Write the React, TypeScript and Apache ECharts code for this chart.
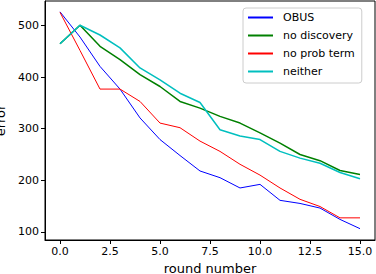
import React, { useEffect, useRef } from "react";
import * as echarts from "echarts";

const rounds = [0, 1, 2, 3, 4, 5, 6, 7, 8, 9, 10, 11, 12, 13, 14, 15];
const obus = [527, 478, 421, 377, 321, 279, 248, 218, 205, 185, 192, 161, 155, 146, 124, 106];
const noDiscovery = [465, 501, 460, 434, 405, 382, 353, 340, 324, 311, 292, 272, 250, 238, 219, 211];
const noProbTerm = [526, 452, 377, 377, 353, 311, 302, 276, 256, 231, 210, 185, 163, 149, 127, 127];
const neither = [465, 501, 482, 457, 418, 395, 369, 351, 298, 286, 279, 256, 243, 233, 215, 203];
const xTicks = [0, 2.5, 5, 7.5, 10, 12.5, 15];
const yTicks = [100, 200, 300, 400, 500];

const FONT = "DejaVu Sans";

export default function App() {
  const ref = useRef<HTMLDivElement>(null);
  useEffect(() => {
    if (!ref.current) return;
    const chart = echarts.init(ref.current, undefined, { renderer: "svg" });
    const mk = (name: string, vals: number[], color: string, width: number) => ({
      name,
      type: "line",
      data: rounds.map((r, i) => [r, vals[i]]),
      symbol: "none",
      lineStyle: { color, width },
      itemStyle: { color },
      z: 2,
    });
    chart.setOption({
      animation: false,
      textStyle: { fontFamily: FONT },
      grid: {
        left: 45,
        right: 1,
        top: 1,
        bottom: 34,
        containLabel: false,
        outerBoundsMode: "none",
        show: true,
        borderColor: "#000",
        borderWidth: 1,
      },
      xAxis: {
        type: "value",
        min: -0.75,
        max: 15.75,
        name: "round number",
        nameLocation: "middle",
        nameGap: 18,
        nameTextStyle: { fontSize: 13, color: "#000", fontFamily: FONT },
        axisLine: { show: true, onZero: false, lineStyle: { color: "#000", width: 1 } },
        axisTick: { show: true, length: 4, customValues: xTicks, lineStyle: { color: "#000" } },
        axisLabel: {
          customValues: xTicks,
          fontSize: 11,
          color: "#000",
          margin: 6,
          fontFamily: FONT,
          formatter: (v: number) => v.toFixed(1),
        },
        splitLine: { show: false },
      },
      yAxis: {
        type: "value",
        min: 84,
        max: 548,
        name: "error",
        nameLocation: "middle",
        nameGap: 38,
        nameTextStyle: { fontSize: 13, color: "#000", fontFamily: FONT },
        axisLine: { show: true, onZero: false, lineStyle: { color: "#000", width: 1 } },
        axisTick: { show: true, length: 4, customValues: yTicks, lineStyle: { color: "#000" } },
        axisLabel: { customValues: yTicks, fontSize: 11, color: "#000", margin: 6, fontFamily: FONT },
        splitLine: { show: false },
      },
      legend: {
        orient: "vertical",
        left: 243,
        top: 8,
        padding: [3, 7, 5, 4],
        itemGap: 5,
        itemWidth: 25,
        itemHeight: 2,
        itemStyle: { opacity: 0, borderWidth: 0 },
        backgroundColor: "rgba(255,255,255,0.8)",
        borderColor: "#ccc",
        borderWidth: 1,
        borderRadius: 3,
        textStyle: { fontSize: 11, color: "#000", fontFamily: FONT, lineHeight: 13, padding: [0, 0, 0, 5] },
        data: ["OBUS", "no discovery", "no prob term", "neither"],
      },
      series: [
        mk("OBUS", obus, "#0000ff", 1),
        mk("no discovery", noDiscovery, "#008000", 1.5),
        mk("no prob term", noProbTerm, "#ff0000", 1),
        mk("neither", neither, "#00bfbf", 1.5),
      ],
    });
    return () => chart.dispose();
  }, []);
  return (
    <div
      ref={ref}
      style={{ position: "absolute", left: 0, top: 0, width: 376, height: 274 }}
    />
  );
}
